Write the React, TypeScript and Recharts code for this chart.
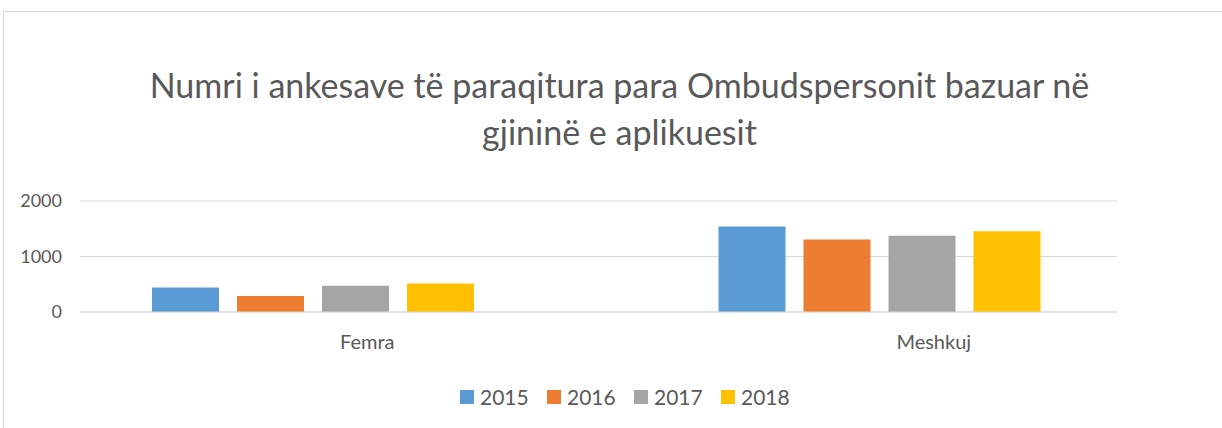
import { BarChart, Bar, XAxis, YAxis, CartesianGrid, Legend } from "recharts";

const categories = ["Femra", "Meshkuj"];
const years = ["2015", "2016", "2017", "2018"];
const values2015 = [440, 1540];
const values2016 = [290, 1305];
const values2017 = [475, 1376];
const values2018 = [512, 1454];
const yTicks = [0, 1000, 2000];

const COLORS = ["#5B9BD5", "#ED7D31", "#A5A5A5", "#FFC000"];
const FONT = "Lato, 'Liberation Sans', sans-serif";
const TEXT = "#595959";

const seriesValues = [values2015, values2016, values2017, values2018];
const data = categories.map((name, i) => {
  const row: Record<string, string | number> = { name };
  years.forEach((y, s) => {
    row[y] = seriesValues[s][i];
  });
  return row;
});

function CategoryTick(props: any) {
  const { x, y, payload } = props;
  return (
    <text x={x + 54} y={y} dy={29} textAnchor="middle" fill={TEXT} fontSize={20} fontFamily={FONT}>
      {payload.value}
    </text>
  );
}

function LegendContent() {
  return (
    <div style={{ display: "flex", justifyContent: "center", paddingLeft: 46, fontFamily: FONT }}>
      {years.map((y, i) => (
        <div key={y} style={{ display: "flex", alignItems: "center", width: 87 }}>
          <span style={{ width: 14, height: 14, background: COLORS[i], display: "inline-block", marginRight: 6 }} />
          <span style={{ color: TEXT, fontSize: 21 }}>{y}</span>
        </div>
      ))}
    </div>
  );
}

export default function App() {
  return (
    <div style={{ position: "fixed", left: 0, top: 0, width: 1222, height: 428, overflow: "hidden", background: "#fff" }}>
      <div
        style={{
          position: "absolute",
          left: 3,
          top: 11,
          width: 1240,
          height: 440,
          border: "1px solid #d9d9d9",
        }}
      />
      <div
        style={{
          position: "absolute",
          left: 0,
          top: 61,
          width: 1239,
          textAlign: "center",
          fontFamily: FONT,
          fontSize: 34,
          lineHeight: "47px",
          color: TEXT,
        }}
      >
        Numri i ankesave të paraqitura para Ombudspersonit bazuar në
        <br />
        gjininë e aplikuesit
      </div>
      <BarChart
        width={1222}
        height={428}
        data={data}
        margin={{ top: 201, right: 105, left: 0, bottom: 86 }}
        barSize={67}
        barGap={18}
      >
        <CartesianGrid horizontal vertical={false} stroke="#d9d9d9" />
        <XAxis
          dataKey="name"
          padding={{ left: -50, right: -46 }}
          axisLine={{ stroke: "#d9d9d9" }}
          tickLine={false}
          tick={<CategoryTick />}
        />
        <YAxis
          width={80}
          domain={[0, 2000]}
          ticks={yTicks}
          axisLine={false}
          tickLine={false}
          tickMargin={12}
          tick={{ fill: TEXT, fontSize: 18, fontFamily: FONT }}
        />
        <Legend
          layout="horizontal"
          verticalAlign="middle"
          align="center"
          wrapperStyle={{ top: 384, left: 0, width: 1222 }}
          content={<LegendContent />}
        />
        {years.map((y, i) => (
          <Bar key={y} dataKey={y} fill={COLORS[i]} isAnimationActive={false} />
        ))}
      </BarChart>
    </div>
  );
}
